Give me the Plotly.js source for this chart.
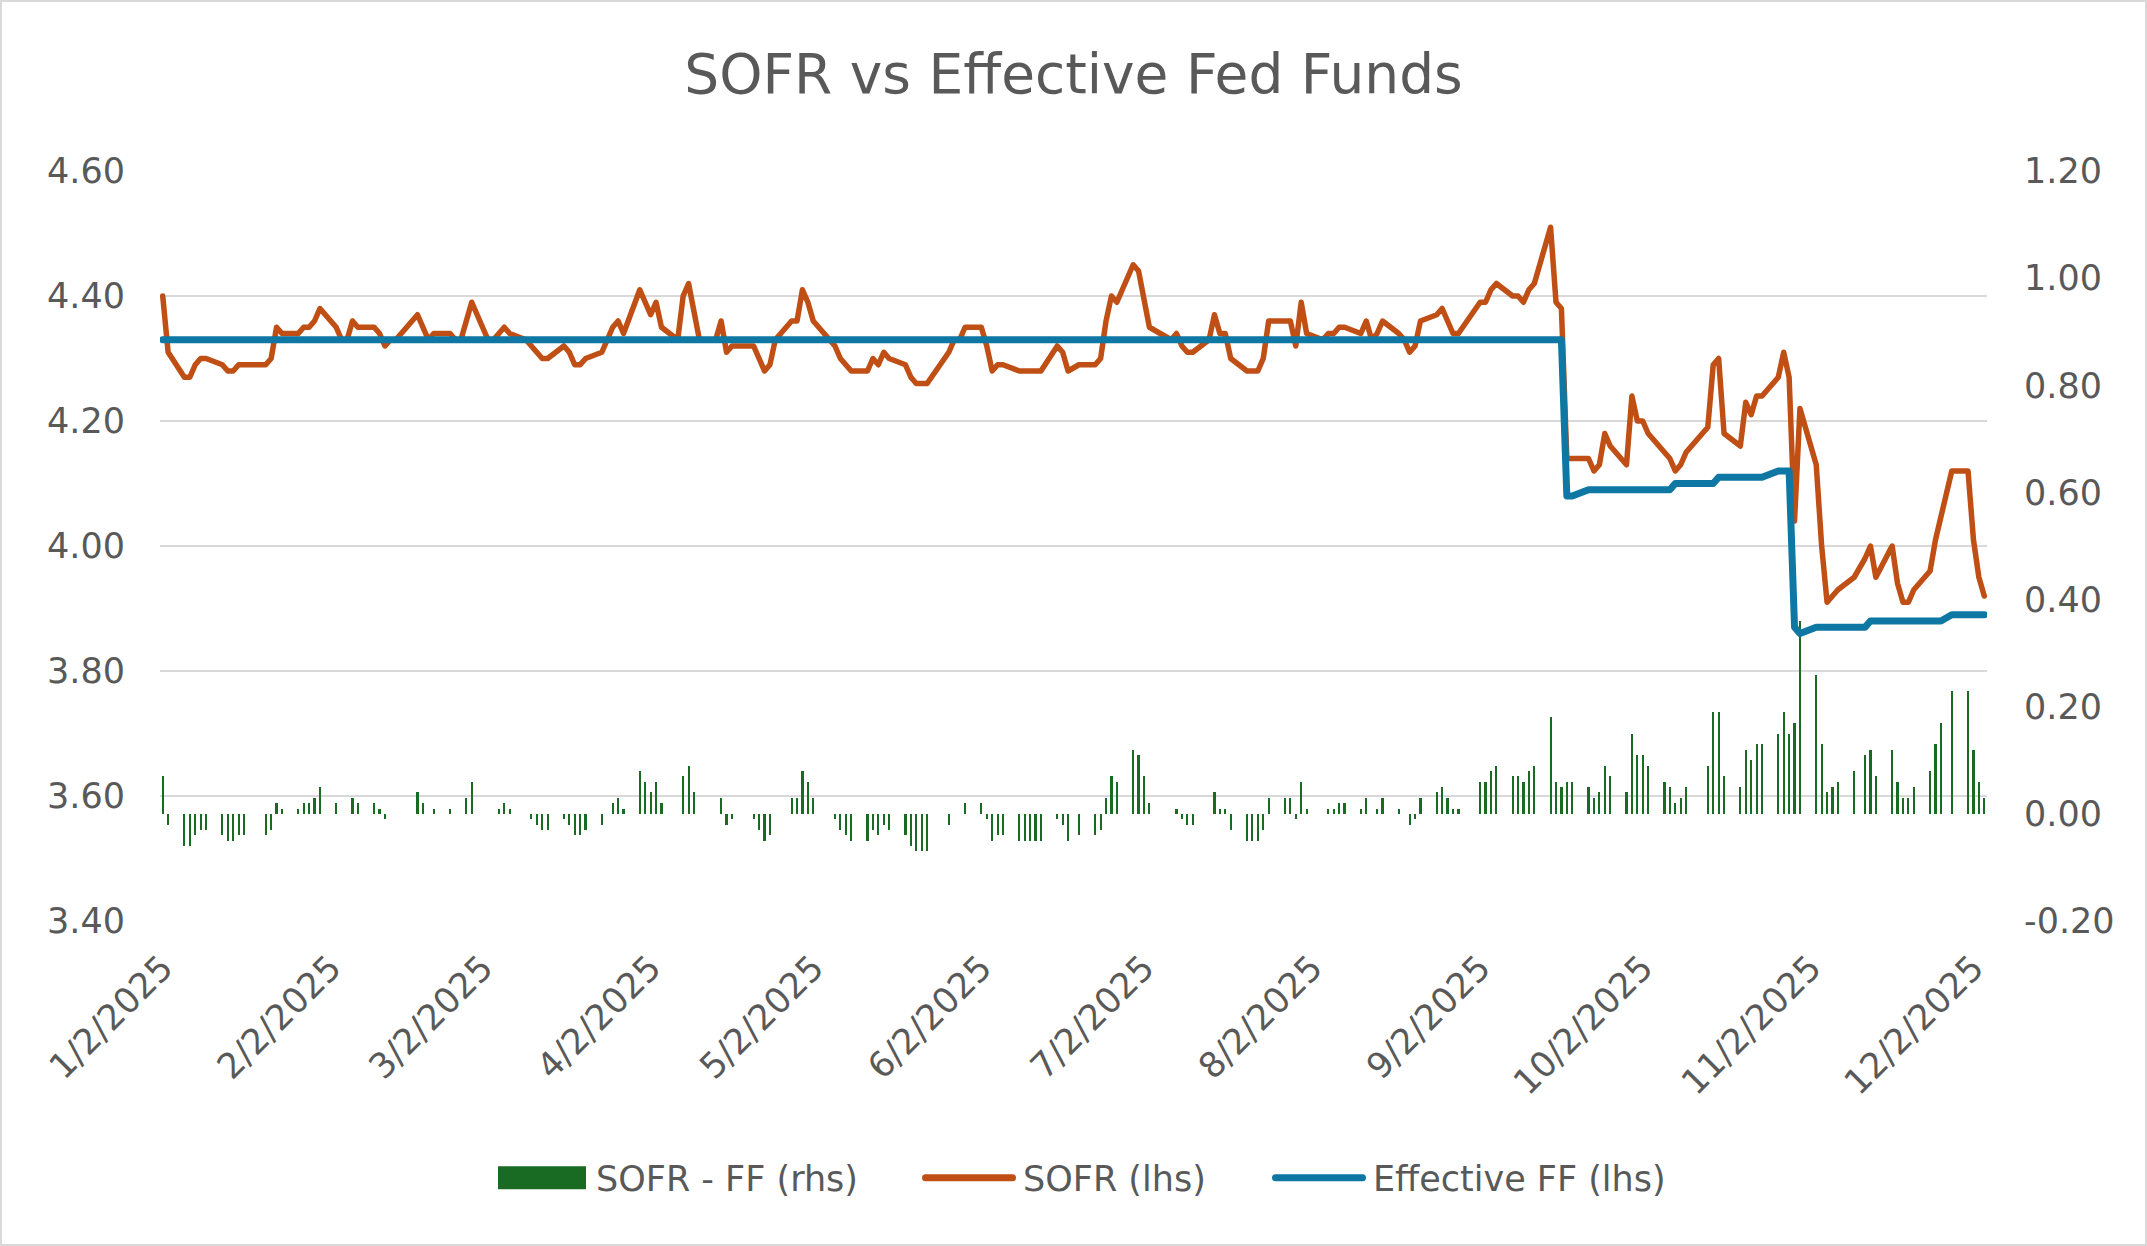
<!DOCTYPE html>
<html>
<head>
<meta charset="utf-8">
<script src="https://cdn.plot.ly/plotly-3.0.1.min.js"></script>
<style>
html,body{margin:0;padding:0;background:#fff;}
#wrap{width:2147px;height:1246px;box-sizing:border-box;border:2px solid #d9d9d9;background:#fff;overflow:hidden;}
#chart{width:2143px;height:1242px;}
</style>
</head>
<body>
<div id="wrap"><div id="chart"></div></div>
<script>
// ---- Data (business days, 2025) ----
const dates = [
 '2025-01-02','2025-01-03','2025-01-06','2025-01-07','2025-01-08','2025-01-09','2025-01-10','2025-01-13','2025-01-14','2025-01-15','2025-01-16','2025-01-17','2025-01-21','2025-01-22','2025-01-23','2025-01-24','2025-01-27','2025-01-28','2025-01-29','2025-01-30','2025-01-31',
 '2025-02-03','2025-02-04','2025-02-05','2025-02-06','2025-02-07','2025-02-10','2025-02-11','2025-02-12','2025-02-13','2025-02-14','2025-02-18','2025-02-19','2025-02-20','2025-02-21','2025-02-24','2025-02-25','2025-02-26','2025-02-27','2025-02-28',
 '2025-03-03','2025-03-04','2025-03-05','2025-03-06','2025-03-07','2025-03-10','2025-03-11','2025-03-12','2025-03-13','2025-03-14','2025-03-17','2025-03-18','2025-03-19','2025-03-20','2025-03-21','2025-03-24','2025-03-25','2025-03-26','2025-03-27','2025-03-28','2025-03-31',
 '2025-04-01','2025-04-02','2025-04-03','2025-04-04','2025-04-07','2025-04-08','2025-04-09','2025-04-10','2025-04-11','2025-04-14','2025-04-15','2025-04-16','2025-04-17','2025-04-21','2025-04-22','2025-04-23','2025-04-24','2025-04-25','2025-04-28','2025-04-29','2025-04-30',
 '2025-05-01','2025-05-02','2025-05-05','2025-05-06','2025-05-07','2025-05-08','2025-05-09','2025-05-12','2025-05-13','2025-05-14','2025-05-15','2025-05-16','2025-05-19','2025-05-20','2025-05-21','2025-05-22','2025-05-23','2025-05-27','2025-05-28','2025-05-29','2025-05-30',
 '2025-06-02','2025-06-03','2025-06-04','2025-06-05','2025-06-06','2025-06-09','2025-06-10','2025-06-11','2025-06-12','2025-06-13','2025-06-16','2025-06-17','2025-06-18','2025-06-20','2025-06-23','2025-06-24','2025-06-25','2025-06-26','2025-06-27','2025-06-30',
 '2025-07-01','2025-07-02','2025-07-03','2025-07-07','2025-07-08','2025-07-09','2025-07-10','2025-07-11','2025-07-14','2025-07-15','2025-07-16','2025-07-17','2025-07-18','2025-07-21','2025-07-22','2025-07-23','2025-07-24','2025-07-25','2025-07-28','2025-07-29','2025-07-30','2025-07-31',
 '2025-08-01','2025-08-04','2025-08-05','2025-08-06','2025-08-07','2025-08-08','2025-08-11','2025-08-12','2025-08-13','2025-08-14','2025-08-15','2025-08-18','2025-08-19','2025-08-20','2025-08-21','2025-08-22','2025-08-25','2025-08-26','2025-08-27','2025-08-28','2025-08-29',
 '2025-09-02','2025-09-03','2025-09-04','2025-09-05','2025-09-08','2025-09-09','2025-09-10','2025-09-11','2025-09-12','2025-09-15','2025-09-16','2025-09-17','2025-09-18','2025-09-19','2025-09-22','2025-09-23','2025-09-24','2025-09-25','2025-09-26','2025-09-29','2025-09-30',
 '2025-10-01','2025-10-02','2025-10-03','2025-10-06','2025-10-07','2025-10-08','2025-10-09','2025-10-10','2025-10-14','2025-10-15','2025-10-16','2025-10-17','2025-10-20','2025-10-21','2025-10-22','2025-10-23','2025-10-24','2025-10-27','2025-10-28','2025-10-29','2025-10-30','2025-10-31',
 '2025-11-03','2025-11-04','2025-11-05','2025-11-06','2025-11-07','2025-11-10','2025-11-12','2025-11-13','2025-11-14','2025-11-17','2025-11-18','2025-11-19','2025-11-20','2025-11-21','2025-11-24','2025-11-25','2025-11-26','2025-11-28',
 '2025-12-01','2025-12-02','2025-12-03','2025-12-04'
];

const sofr = [
 4.40,4.31,4.27,4.27,4.29,4.30,4.30,4.29,4.28,4.28,4.29,4.29,4.29,4.30,4.35,4.34,4.34,4.35,4.35,4.36,4.38,
 4.35,4.33,4.33,4.36,4.35,4.35,4.34,4.32,4.33,4.33,4.37,4.35,4.33,4.34,4.34,4.33,4.33,4.36,4.39,
 4.33,4.33,4.34,4.35,4.34,4.33,4.32,4.31,4.30,4.30,4.32,4.31,4.29,4.29,4.30,4.31,4.33,4.35,4.36,4.34,4.41,
 4.39,4.37,4.39,4.35,4.33,4.40,4.42,4.37,4.33,4.33,4.36,4.31,4.32,4.32,4.30,4.28,4.29,4.33,4.36,4.36,4.41,
 4.39,4.36,4.33,4.32,4.30,4.29,4.28,4.28,4.30,4.29,4.31,4.30,4.29,4.27,4.26,4.26,4.26,4.31,4.33,4.33,4.35,
 4.35,4.32,4.28,4.29,4.29,4.28,4.28,4.28,4.28,4.28,4.32,4.31,4.28,4.29,4.29,4.30,4.36,4.40,4.39,4.45,
 4.44,4.40,4.35,4.33,4.34,4.32,4.31,4.31,4.33,4.37,4.34,4.34,4.30,4.28,4.28,4.28,4.30,4.36,4.36,4.36,4.32,4.39,
 4.34,4.33,4.34,4.34,4.35,4.35,4.34,4.36,4.33,4.34,4.36,4.34,4.33,4.31,4.32,4.36,4.37,4.38,4.36,4.34,4.34,
 4.39,4.39,4.41,4.42,4.40,4.40,4.39,4.41,4.42,4.51,4.39,4.38,4.14,4.14,4.14,4.12,4.13,4.18,4.16,4.13,4.24,
 4.20,4.20,4.18,4.15,4.14,4.12,4.13,4.15,4.19,4.29,4.30,4.18,4.16,4.23,4.21,4.24,4.24,4.27,4.31,4.27,4.04,4.22,
 4.13,4.00,3.91,3.92,3.93,3.95,3.98,4.00,3.95,4.00,3.94,3.91,3.91,3.93,3.96,4.01,4.05,4.12,
 4.12,4.01,3.95,3.92
];

const effr = [
 4.33,4.33,4.33,4.33,4.33,4.33,4.33,4.33,4.33,4.33,4.33,4.33,4.33,4.33,4.33,4.33,4.33,4.33,4.33,4.33,4.33,
 4.33,4.33,4.33,4.33,4.33,4.33,4.33,4.33,4.33,4.33,4.33,4.33,4.33,4.33,4.33,4.33,4.33,4.33,4.33,
 4.33,4.33,4.33,4.33,4.33,4.33,4.33,4.33,4.33,4.33,4.33,4.33,4.33,4.33,4.33,4.33,4.33,4.33,4.33,4.33,4.33,
 4.33,4.33,4.33,4.33,4.33,4.33,4.33,4.33,4.33,4.33,4.33,4.33,4.33,4.33,4.33,4.33,4.33,4.33,4.33,4.33,4.33,
 4.33,4.33,4.33,4.33,4.33,4.33,4.33,4.33,4.33,4.33,4.33,4.33,4.33,4.33,4.33,4.33,4.33,4.33,4.33,4.33,4.33,
 4.33,4.33,4.33,4.33,4.33,4.33,4.33,4.33,4.33,4.33,4.33,4.33,4.33,4.33,4.33,4.33,4.33,4.33,4.33,4.33,
 4.33,4.33,4.33,4.33,4.33,4.33,4.33,4.33,4.33,4.33,4.33,4.33,4.33,4.33,4.33,4.33,4.33,4.33,4.33,4.33,4.33,4.33,
 4.33,4.33,4.33,4.33,4.33,4.33,4.33,4.33,4.33,4.33,4.33,4.33,4.33,4.33,4.33,4.33,4.33,4.33,4.33,4.33,4.33,
 4.33,4.33,4.33,4.33,4.33,4.33,4.33,4.33,4.33,4.33,4.33,4.33,4.08,4.08,4.09,4.09,4.09,4.09,4.09,4.09,4.09,
 4.09,4.09,4.09,4.09,4.09,4.10,4.10,4.10,4.10,4.10,4.11,4.11,4.11,4.11,4.11,4.11,4.11,4.12,4.12,4.12,3.87,3.86,
 3.87,3.87,3.87,3.87,3.87,3.87,3.87,3.88,3.88,3.88,3.88,3.88,3.88,3.88,3.88,3.88,3.88,3.89,
 3.89,3.89,3.89,3.89
];

const spread = [
 0.07,-0.02,-0.06,-0.06,-0.04,-0.03,-0.03,-0.04,-0.05,-0.05,-0.04,-0.04,-0.04,-0.03,0.02,0.01,0.01,0.02,0.02,0.03,0.05,
 0.02,0.00,0.00,0.03,0.02,0.02,0.01,-0.01,0.00,0.00,0.04,0.02,0.00,0.01,0.01,0.00,0.00,0.03,0.06,
 0.00,0.00,0.01,0.02,0.01,0.00,-0.01,-0.02,-0.03,-0.03,-0.01,-0.02,-0.04,-0.04,-0.03,-0.02,0.00,0.02,0.03,0.01,0.08,
 0.06,0.04,0.06,0.02,0.00,0.07,0.09,0.04,0.00,0.00,0.03,-0.02,-0.01,-0.01,-0.03,-0.05,-0.04,0.00,0.03,0.03,0.08,
 0.06,0.03,0.00,-0.01,-0.03,-0.04,-0.05,-0.05,-0.03,-0.04,-0.02,-0.03,-0.04,-0.06,-0.07,-0.07,-0.07,-0.02,0.00,0.00,0.02,
 0.02,-0.01,-0.05,-0.04,-0.04,-0.05,-0.05,-0.05,-0.05,-0.05,-0.01,-0.02,-0.05,-0.04,-0.04,-0.03,0.03,0.07,0.06,0.12,
 0.11,0.07,0.02,0.00,0.01,-0.01,-0.02,-0.02,0.00,0.04,0.01,0.01,-0.03,-0.05,-0.05,-0.05,-0.03,0.03,0.03,0.03,-0.01,0.06,
 0.01,0.00,0.01,0.01,0.02,0.02,0.01,0.03,0.00,0.01,0.03,0.01,0.00,-0.02,-0.01,0.03,0.04,0.05,0.03,0.01,0.01,
 0.06,0.06,0.08,0.09,0.07,0.07,0.06,0.08,0.09,0.18,0.06,0.05,0.06,0.06,0.05,0.03,0.04,0.09,0.07,0.04,0.15,
 0.11,0.11,0.09,0.06,0.05,0.02,0.03,0.05,0.09,0.19,0.19,0.07,0.05,0.12,0.10,0.13,0.13,0.15,0.19,0.15,0.17,0.36,
 0.26,0.13,0.04,0.05,0.06,0.08,0.11,0.12,0.07,0.12,0.06,0.03,0.03,0.05,0.08,0.13,0.17,0.23,
 0.23,0.12,0.06,0.03
];

const monthTickDates = ['2025-01-02','2025-02-02','2025-03-02','2025-04-02','2025-05-02','2025-06-02','2025-07-02','2025-08-02','2025-09-02','2025-10-02','2025-11-02','2025-12-02'];
const monthTickLabels = ['1/2/2025','2/2/2025','3/2/2025','4/2/2025','5/2/2025','6/2/2025','7/2/2025','8/2/2025','9/2/2025','10/2/2025','11/2/2025','12/2/2025'];
const lhsTicks = [3.4, 3.6, 3.8, 4.0, 4.2, 4.4, 4.6];
const lhsTickLabels = ['3.40','3.60','3.80','4.00','4.20','4.40','4.60'];
const rhsTicks = [-0.2, 0, 0.2, 0.4, 0.6, 0.8, 1.0, 1.2];
const rhsTickLabels = ['-0.20','0.00','0.20','0.40','0.60','0.80','1.00','1.20'];

const seriesNames = ['SOFR - FF (rhs)', 'SOFR (lhs)', 'Effective FF (lhs)'];

// ---- Styles ----
const TEXT = '#595959';
const GRID = '#d9d9d9';
const FONT = 'DejaVu Sans, Liberation Sans, sans-serif';
const DAY_MS = 86400000;
const COLORS = ['#196B24', '#C04F15', '#0E77A3'];

const traces = [
  {
    type: 'bar', name: seriesNames[0], x: dates, y: spread,
    xaxis: 'x', yaxis: 'y',
    marker: {color: COLORS[0], line: {width: 0}},
    width: 0.4 * DAY_MS,
    hoverinfo: 'skip'
  },
  {
    type: 'scatter', mode: 'lines', name: seriesNames[1], x: dates, y: sofr,
    xaxis: 'x', yaxis: 'y2',
    line: {color: COLORS[1], width: 5.5},
    hoverinfo: 'skip'
  },
  {
    type: 'scatter', mode: 'lines', name: seriesNames[2], x: dates, y: effr,
    xaxis: 'x', yaxis: 'y2',
    line: {color: COLORS[2], width: 7},
    hoverinfo: 'skip'
  }
];

const layout = {
  width: 2143, height: 1242,
  margin: {l: 158, r: 158, t: 169, b: 323, pad: 0},
  paper_bgcolor: '#ffffff', plot_bgcolor: '#ffffff',
  font: {family: FONT, color: TEXT, size: 35},
  title: {
    text: 'SOFR vs Effective Fed Funds',
    font: {family: FONT, size: 55, color: TEXT},
    x: 0.5, xref: 'paper', xanchor: 'center',
    y: 1 - 72 / 1242, yref: 'container', yanchor: 'middle'
  },
  showlegend: true,
  legend: {
    orientation: 'h', x: 0.5, xref: 'paper', xanchor: 'center',
    y: 1 - 1176 / 1242, yref: 'container', yanchor: 'middle',
    font: {family: FONT, size: 35, color: TEXT},
    traceorder: 'normal', itemwidth: 93, bgcolor: 'rgba(0,0,0,0)'
  },
  xaxis: {
    type: 'date', range: ['2025-01-01 12:00', '2025-12-04 12:00'],
    tickmode: 'array', tickvals: monthTickDates, ticktext: monthTickLabels,
    tickangle: -45, showgrid: false, zeroline: false, showline: false, ticks: '',
    ticklabelstandoff: 18, tickfont: {family: FONT, size: 35, color: TEXT}
  },
  yaxis: {
    side: 'right', range: [-0.2, 1.2],
    tickmode: 'array', tickvals: rhsTicks, ticktext: rhsTickLabels,
    showgrid: false, zeroline: false, showline: false, ticks: '',
    ticklabelstandoff: 36, tickfont: {family: FONT, size: 35, color: TEXT}
  },
  yaxis2: {
    side: 'left', overlaying: 'y', range: [3.4, 4.6],
    tickmode: 'array', tickvals: lhsTicks, ticktext: lhsTickLabels,
    showgrid: true, gridcolor: GRID, gridwidth: 2.5,
    zeroline: false, showline: false, ticks: '',
    ticklabelstandoff: 34, tickfont: {family: FONT, size: 35, color: TEXT}
  },
  bargap: 0
};

const gd = document.getElementById('chart');
Plotly.newPlot(gd, traces, layout, {displayModeBar: false, staticPlot: true}).then(function () {
  // Rounded joins like the Excel original.
  gd.querySelectorAll('.scatterlayer path.js-line').forEach(function (p) {
    p.style.strokeLinejoin = 'round';
    p.style.strokeLinecap = 'round';
  });
  // Give the legend the wide Excel-style swatches and spacing of the reference.
  try {
    const legend = gd.querySelector('.legend');
    if (!legend) return;
    legend.querySelectorAll('[clip-path]').forEach(function (el) { el.removeAttribute('clip-path'); });
    const items = Array.from(legend.querySelectorAll('g.traces'));
    const textTargets = [594, 1021, 1371];   // left edge of each legend label, px in the chart div
    const TEXT_X = 103;
    items.forEach(function (g, i) {
      const bar = g.querySelector('.legendpoints path');
      const line = g.querySelector('.legendlines path');
      if (bar && !line) {
        bar.setAttribute('d', 'M5,11.5H93V-11.5H5Z');
        bar.setAttribute('transform', 'translate(0,0)');
      }
      if (line) {
        line.setAttribute('d', 'M5.5,0H92.5');
        line.style.strokeWidth = '7px';
        line.style.strokeLinecap = 'round';
      }
      const txt = g.querySelector('text.legendtext');
      if (txt) {
        txt.setAttribute('x', TEXT_X);
        txt.querySelectorAll('tspan').forEach(function (t) { if (t.hasAttribute('x')) t.setAttribute('x', TEXT_X); });
        const base = gd.getBoundingClientRect();
        const r = txt.getBoundingClientRect();
        const cur = r.left - base.left;
        const tr = g.getAttribute('transform') || '';
        const m = tr.match(/translate\(\s*([-\d.e]+)(?:[ ,]\s*([-\d.e]+))?\s*\)/);
        let tx = m ? parseFloat(m[1]) : 0;
        const ty = m && m[2] !== undefined ? parseFloat(m[2]) : 0;
        tx += (textTargets[i] - cur);
        g.setAttribute('transform', 'translate(' + tx + ',' + ty + ')');
      }
    });
  } catch (e) { /* keep default legend */ }
});
</script>
</body>
</html>
